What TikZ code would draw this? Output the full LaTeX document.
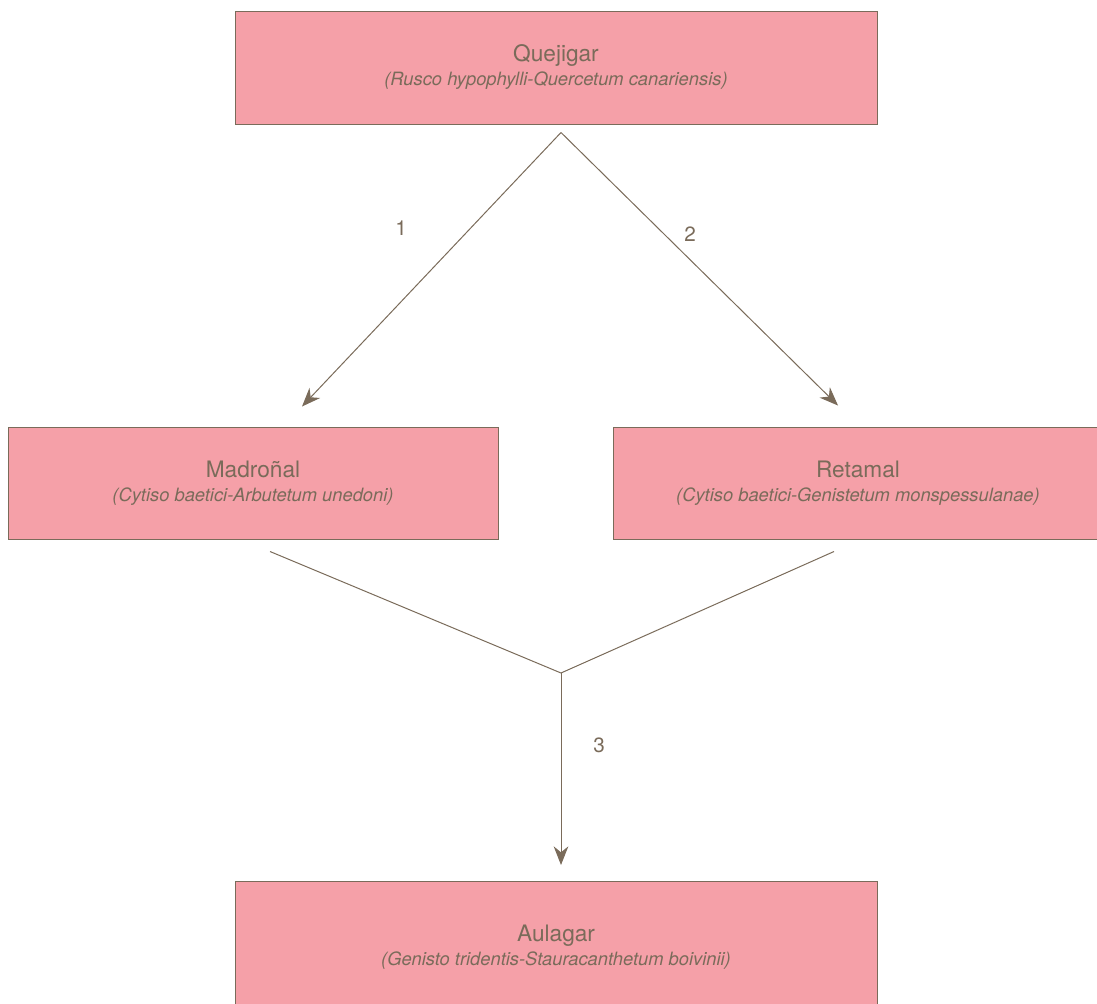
\documentclass[tikz,border=0pt]{standalone}
\usepackage{fontspec}
\setmainfont{TeX Gyre Heros}
\usetikzlibrary{arrows.meta, positioning, calc}
\definecolor{boxpink}{RGB}{245,160,168}
\definecolor{earth}{RGB}{122,107,90}
\tikzset{>={Stealth[length = 14pt, width = 11pt, inset = 4.5pt]}}
\newcommand{\subname}[1]{{\fontsize{13.75}{16}\itshape\selectfont (#1)}}

\begin{document}
\begin{tikzpicture}[x = 0.75pt, y = -0.75pt,
  box/.style = {draw = earth, fill = boxpink, line width = 0.75pt, inner sep = 0pt},
  wide/.style = {minimum width = 481.5pt},
  narrow/.style = {minimum width = 367.5pt, minimum height = 84pt},
  boxtext/.style = {align = center, text = earth, font = \fontsize{17}{20}\selectfont},
  link/.style = {draw = earth, line width = 0.75pt},
  step label/.style = {text = earth, font = \fontsize{15.5}{17}\selectfont}]
\useasboundingbox (0, 0) rectangle (1097, 1004);

% communities
\node[box, boxtext, wide, minimum height = 84.75pt] (quejigar) at (556, 67.5)
  {Quejigar\\[-2pt]\subname{Rusco hypophylli-Quercetum canariensis}};
\node[box, boxtext, narrow] (madronal) at (253, 483)
  {Madroñal\\[-2pt]\subname{Cytiso baetici-Arbutetum unedoni}};
\node[box, boxtext, narrow] (retamal) at (858, 483)
  {Retamal\\[-2pt]\subname{Cytiso baetici-Genistetum monspessulanae}};
\node[box, wide, minimum height = 112.5pt, anchor = north] (aulagar) at (556, 881) {};
\node[boxtext] (aulagar text) at ([yshift = -49.5]aulagar.north)
  {Aulagar\\[-2pt]\subname{Genisto tridentis-Stauracanthetum boivinii}};

% ends of the connectors
\coordinate (top) at ([shift = {(5, 8)}]quejigar.south);
\coordinate (left in) at ([shift = {(49, -20)}]madronal.north);
\coordinate (right in) at ([shift = {(-20, -21)}]retamal.north);
\coordinate (left out) at ([shift = {(17, 12)}]madronal.south);
\coordinate (right out) at ([shift = {(-24, 12)}]retamal.south);
\coordinate (fork) at (561, 673);
\coordinate (bottom in) at ([shift = {(5, -16)}]aulagar.north);

\draw[link, ->] (top) -- (left in);
\draw[link, ->] (top) -- (right in);
\draw[link] (left out) -- (fork) -- (right out);
\draw[link, ->] (fork) -- (bottom in);

\node[step label] (one) at (401, 228) {1};
\node[step label] (two) at (690, 234) {2};
\node[step label] (three) at (599, 745) {3};
\end{tikzpicture}
\end{document}
